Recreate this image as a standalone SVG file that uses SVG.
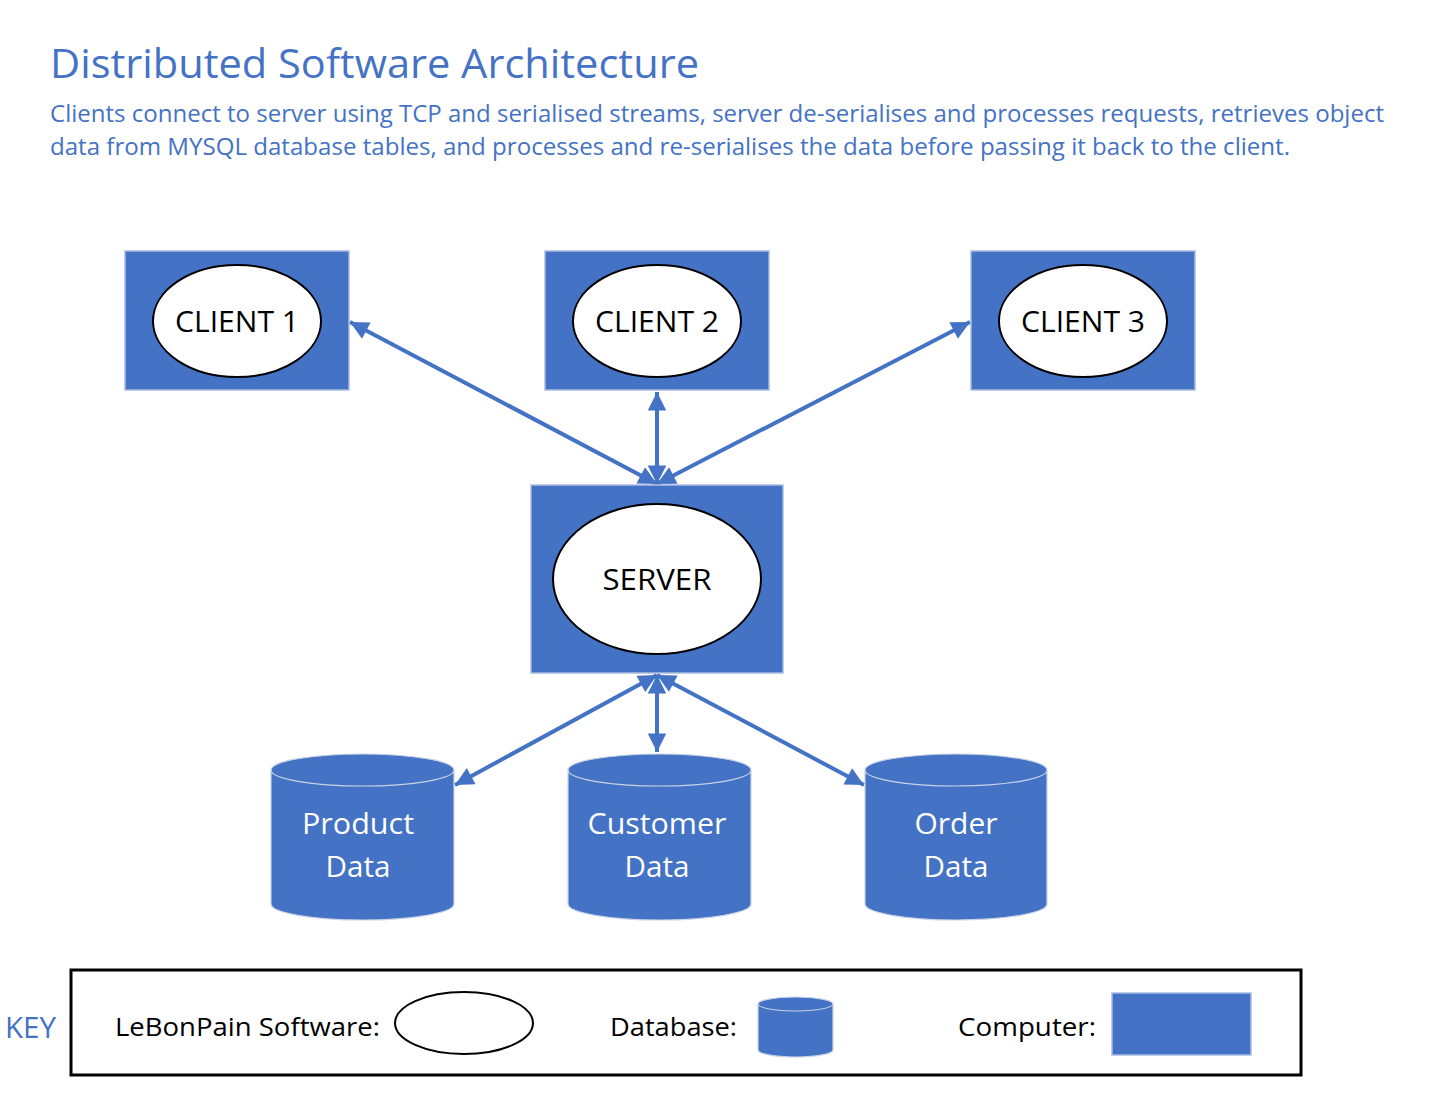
<svg xmlns="http://www.w3.org/2000/svg" width="1445" height="1098" viewBox="0 0 1445 1098">
<style>
text{font-family:"Open Sans","Liberation Sans",sans-serif}
.hdr{fill:#4472C4}
.comp{fill:#4472C4;stroke:#A9BCE3;stroke-width:1.5}
.sw{fill:#fff;stroke:#000;stroke-width:2}
.lbl{font-size:30px;fill:#000;text-anchor:middle}
.db{fill:#4472C4;stroke:#C9D3E6;stroke-width:1.2}
.dbl{font-size:30px;fill:#fff;text-anchor:middle}
.conn{stroke:#4472C4;stroke-width:4;fill:none;marker-start:url(#ah);marker-end:url(#ah)}
.key{font-size:26px;fill:#000}
</style>
<defs>
<marker id="ah" viewBox="0 0 10 10" refX="10" refY="5" markerWidth="6.3" markerHeight="4.6" orient="auto-start-reverse" markerUnits="strokeWidth">
<path d="M0,0 L10,5 L0,10 z" fill="#4472C4"/>
</marker>
</defs>
<rect width="1445" height="1098" fill="#fff"/>
<g id="title">
<text class="hdr" x="50" y="78" font-size="40" textLength="649" lengthAdjust="spacingAndGlyphs">Distributed Software Architecture</text>
<text class="hdr" x="50" y="122" font-size="23" textLength="1334" lengthAdjust="spacingAndGlyphs">Clients connect to server using TCP and serialised streams, server de-serialises and processes requests, retrieves object</text>
<text class="hdr" x="50" y="155" font-size="23" textLength="1240" lengthAdjust="spacingAndGlyphs">data from MYSQL database tables, and processes and re-serialises the data before passing it back to the client.</text>
</g>
<g id="connectors">
<line class="conn" x1="657" y1="484" x2="350" y2="322"/>
<line class="conn" x1="657" y1="484" x2="657" y2="392"/>
<line class="conn" x1="657" y1="484" x2="970" y2="322"/>
<line class="conn" x1="657" y1="675" x2="455" y2="785"/>
<line class="conn" x1="657" y1="675" x2="657" y2="752"/>
<line class="conn" x1="657" y1="675" x2="864" y2="785"/>
</g>
<g id="client1">
<rect class="comp" x="125" y="251" width="224" height="139"/>
<ellipse class="sw" cx="237" cy="321" rx="84" ry="56"/>
<text class="lbl" x="237" y="332" textLength="124" lengthAdjust="spacingAndGlyphs">CLIENT 1</text>
</g>
<g id="client2">
<rect class="comp" x="545" y="251" width="224" height="139"/>
<ellipse class="sw" cx="657" cy="321" rx="84" ry="56"/>
<text class="lbl" x="657" y="332" textLength="124" lengthAdjust="spacingAndGlyphs">CLIENT 2</text>
</g>
<g id="client3">
<rect class="comp" x="971" y="251" width="224" height="139"/>
<ellipse class="sw" cx="1083" cy="321" rx="84" ry="56"/>
<text class="lbl" x="1083" y="332" textLength="124" lengthAdjust="spacingAndGlyphs">CLIENT 3</text>
</g>
<g id="server">
<rect class="comp" x="531" y="485" width="252" height="188"/>
<ellipse class="sw" cx="657" cy="579" rx="104" ry="75"/>
<text class="lbl" x="657" y="590" textLength="109" lengthAdjust="spacingAndGlyphs">SERVER</text>
</g>
<g id="product-data">
<path class="db" d="M271,770 A91.5,16 0 0 1 454,770 V904 A91.5,16 0 0 1 271,904 Z"/>
<path d="M271,770 A91.5,16 0 0 0 454,770" fill="none" stroke="#C9D3E6" stroke-width="1.2"/>
<text class="dbl" x="358" y="834" textLength="112" lengthAdjust="spacingAndGlyphs">Product</text>
<text class="dbl" x="358" y="877" textLength="65" lengthAdjust="spacingAndGlyphs">Data</text>
</g>
<g id="customer-data">
<path class="db" d="M568,770 A91.5,16 0 0 1 751,770 V904 A91.5,16 0 0 1 568,904 Z"/>
<path d="M568,770 A91.5,16 0 0 0 751,770" fill="none" stroke="#C9D3E6" stroke-width="1.2"/>
<text class="dbl" x="657" y="834" textLength="139" lengthAdjust="spacingAndGlyphs">Customer</text>
<text class="dbl" x="657" y="877" textLength="65" lengthAdjust="spacingAndGlyphs">Data</text>
</g>
<g id="order-data">
<path class="db" d="M865,770 A91,16 0 0 1 1047,770 V904 A91,16 0 0 1 865,904 Z"/>
<path d="M865,770 A91,16 0 0 0 1047,770" fill="none" stroke="#C9D3E6" stroke-width="1.2"/>
<text class="dbl" x="956" y="834" textLength="83" lengthAdjust="spacingAndGlyphs">Order</text>
<text class="dbl" x="956" y="877" textLength="65" lengthAdjust="spacingAndGlyphs">Data</text>
</g>
<g id="key">
<text class="hdr" x="5" y="1038" font-size="29" textLength="51" lengthAdjust="spacingAndGlyphs">KEY</text>
<rect x="71" y="970" width="1230" height="105" fill="none" stroke="#000" stroke-width="3"/>
<text class="key" x="115" y="1036" textLength="265" lengthAdjust="spacingAndGlyphs">LeBonPain Software:</text>
<ellipse class="sw" cx="464" cy="1023" rx="69" ry="31" stroke-width="2.5"/>
<text class="key" x="610" y="1036" textLength="127" lengthAdjust="spacingAndGlyphs">Database:</text>
<path class="db" d="M758,1004 A37.5,7 0 0 1 833,1004 V1050 A37.5,7 0 0 1 758,1050 Z"/>
<path d="M758,1004 A37.5,7 0 0 0 833,1004" fill="none" stroke="#C9D3E6" stroke-width="1"/>
<text class="key" x="958" y="1036" textLength="138" lengthAdjust="spacingAndGlyphs">Computer:</text>
<rect class="comp" x="1112" y="993" width="139" height="62"/>
</g>
</svg>
